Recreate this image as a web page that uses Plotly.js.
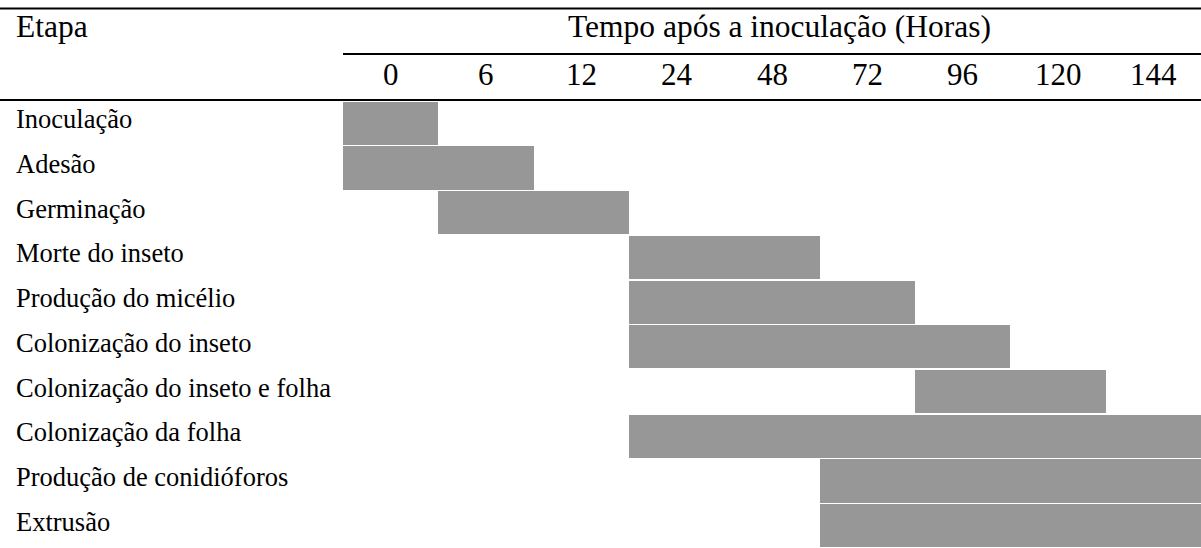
<!DOCTYPE html>
<html>
<head>
<meta charset="utf-8">
<script src="https://cdn.plot.ly/plotly-3.0.1.min.js"></script>
<style>html,body{margin:0;padding:0;background:#fff;}#chart{width:1201px;height:548px;}</style>
</head>
<body>
<div id="chart"></div>
<script>
// ---- data ----
var stages = [
  'Inoculação',
  'Adesão',
  'Germinação',
  'Morte do inseto',
  'Produção do micélio',
  'Colonização do inseto',
  'Colonização do inseto e folha',
  'Colonização da folha',
  'Produção de conidióforos',
  'Extrusão'
];
var timeLabels = ['0', '6', '12', '24', '48', '72', '96', '120', '144'];
// first and last time column (inclusive) in which each stage is marked
var firstTime = ['0', '0', '6', '24', '24', '24', '96', '24', '72', '72'];
var lastTime  = ['0', '6', '12', '48', '72', '96', '120', '144', '144', '144'];
var headerStage = 'Etapa';
var headerTime = 'Tempo após a inoculação (Horas)';

// ---- layout constants ----
var W = 1201, H = 548;
var tableTop = 101;           // px where body rows start
var labelColW = 343;          // px width of the stage column
var serif = "'Liberation Serif', 'Times New Roman', serif";
var gray = 'rgb(151,151,151)';

var nCols = timeLabels.length;
var nRows = stages.length;

var base = [], len = [], yy = [];
for (var i = 0; i < nRows; i++) {
  var s = timeLabels.indexOf(firstTime[i]);
  var e = timeLabels.indexOf(lastTime[i]) + 1;
  base.push(s);
  len.push(e - s);
  yy.push(i + 0.5);
}

var trace = {
  type: 'bar',
  orientation: 'h',
  y: yy,
  x: len,
  base: base,
  width: 0.965,
  marker: {color: gray, line: {width: 0}},
  hoverinfo: 'skip',
  showlegend: false
};

function py(px) { return (H - px) / H; }

var annotations = [];
// stage labels
for (var j = 0; j < nRows; j++) {
  annotations.push({
    xref: 'paper', yref: 'y', x: 14 / W, y: j + 0.5,
    xanchor: 'left', yanchor: 'middle', yshift: 4,
    text: stages[j], showarrow: false,
    font: {family: serif, size: 26.5, color: '#000'}
  });
}
// time column labels
for (var k = 0; k < nCols; k++) {
  annotations.push({
    xref: 'x', yref: 'paper', x: k + 0.5, y: py(74),
    xanchor: 'center', yanchor: 'middle',
    text: timeLabels[k], showarrow: false,
    font: {family: serif, size: 31, color: '#000'}
  });
}
annotations.push({
  xref: 'paper', yref: 'paper', x: 14 / W, y: py(27),
  xanchor: 'left', yanchor: 'middle',
  text: headerStage, showarrow: false,
  font: {family: serif, size: 31.5, color: '#000'}
});
annotations.push({
  xref: 'paper', yref: 'paper', x: (565 + 993) / 2 / W, y: py(27),
  xanchor: 'center', yanchor: 'middle',
  text: headerTime, showarrow: false,
  font: {family: serif, size: 31.5, color: '#000'}
});

var shapes = [
  {type: 'line', xref: 'paper', yref: 'paper', x0: 0, x1: 1, y0: py(8.5), y1: py(8.5), line: {color: '#000', width: 2}},
  {type: 'line', xref: 'paper', yref: 'paper', x0: labelColW / W, x1: 1, y0: py(54), y1: py(54), line: {color: '#000', width: 2}},
  {type: 'line', xref: 'paper', yref: 'paper', x0: 0, x1: 1, y0: py(100), y1: py(100), line: {color: '#000', width: 2}}
];

var layout = {
  width: W, height: H,
  margin: {l: 0, r: 0, t: 0, b: 0, pad: 0},
  paper_bgcolor: '#fff', plot_bgcolor: '#fff',
  xaxis: {domain: [labelColW / W, 1], range: [0, nCols], showgrid: false, zeroline: false,
          showticklabels: false, ticks: '', showline: false, fixedrange: true},
  yaxis: {domain: [0, (H - tableTop) / H], range: [nRows, 0], autorange: false,
          showgrid: false, zeroline: false, showticklabels: false, ticks: '', showline: false, fixedrange: true},
  bargap: 0,
  annotations: annotations,
  shapes: shapes
};

Plotly.newPlot('chart', [trace], layout, {staticPlot: true, displayModeBar: false});
</script>
</body>
</html>
